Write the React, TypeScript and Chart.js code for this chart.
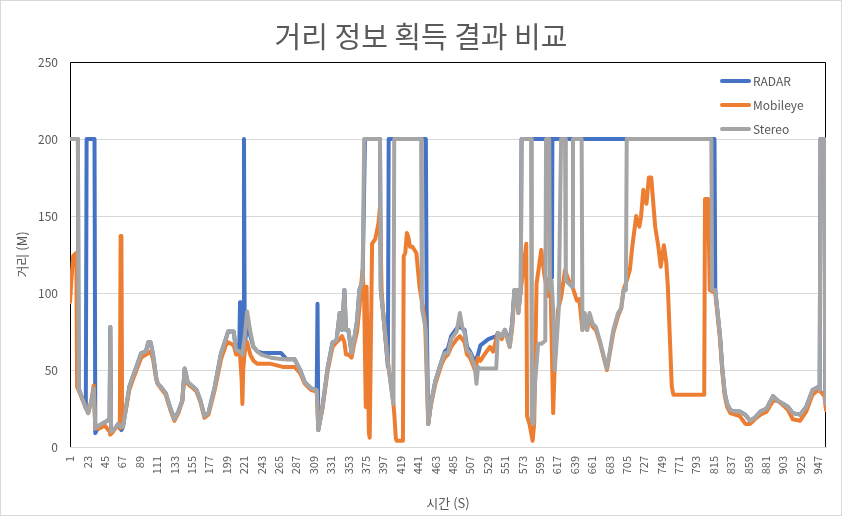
import React, { useEffect, useRef } from 'react';
import { Chart, registerables } from 'chart.js';

Chart.register(...registerables);

const FONT = "'Noto Sans CJK KR', 'Noto Sans', sans-serif";
const TEXT = '#595959';

const chartTitle = '거리 정보 획득 결과 비교';
const xTitle = '시간 (S)';
const yTitle = '거리 (M)';
const seriesNames = ['RADAR', 'Mobileye', 'Stereo'];
const seriesColors = ['#4472C4', '#ED7D31', '#A5A5A5'];

const xTickLabels = [1, 23, 45, 67, 89, 111, 133, 155, 177, 199, 221, 243, 265, 287, 309, 331, 353, 375, 397, 419, 441, 463, 485, 507, 529, 551, 573, 595, 617, 639, 661, 683, 705, 727, 749, 771, 793, 815, 837, 859, 881, 903, 925, 947];
const xMin = 1;
const xMax = 957;
const yTicks = [0, 50, 100, 150, 200, 250];

// Stereo (gray)
const stereoT = [1, 11, 12, 16, 20, 24, 28, 31, 33, 38, 45, 51, 52, 53, 58, 62, 66, 68, 72, 76, 80, 85, 91, 97, 100, 103, 106, 110, 112, 116, 122, 128, 133, 138, 143, 146, 150, 157, 161, 166, 171, 176, 184, 192, 198, 201, 208, 211, 216, 219, 222, 225, 229, 233, 238, 243, 255, 270, 285, 292, 298, 306, 313, 315, 320, 327, 333, 338, 340, 342, 345, 348, 350, 353, 357, 360, 364, 367, 371, 373, 393, 394, 397, 403, 410, 411, 445, 446, 451, 454, 457, 463, 471, 475, 479, 483, 490, 494, 497, 500, 503, 507, 513, 515, 517, 519, 540, 542, 547, 551, 557, 560, 563, 566, 568, 571, 572, 584, 585, 587, 589, 593, 597, 602, 603, 607, 608, 610, 612, 614, 619, 622, 627, 628, 636, 637, 648, 649, 652, 655, 658, 662, 666, 671, 680, 688, 694, 698, 701, 704, 705, 812, 813, 817, 823, 826, 829, 832, 836, 842, 848, 855, 861, 867, 874, 882, 890, 896, 903, 909, 915, 924, 932, 940, 947, 949, 950, 955, 956, 957];
const stereoV = [200, 200, 38, 32, 27, 22, 30, 38, 12, 14, 16, 18, 78, 10, 12, 15, 13, 13, 26, 39, 45, 52, 61, 62, 68, 68, 60, 45, 41, 39, 35, 25, 18, 23, 30, 51, 42, 39, 37, 30, 20, 22, 39, 61, 70, 75, 75, 63, 62, 60, 72, 88, 75, 65, 62, 60, 58, 57, 57, 50, 42, 38, 37, 11, 25, 52, 68, 69, 78, 87, 76, 102, 76, 76, 61, 69, 82, 102, 108, 200, 200, 102, 87, 55, 28, 200, 200, 90, 76, 15, 27, 43, 56, 61, 61, 70, 75, 87, 78, 74, 63, 61, 52, 41, 52, 51, 51, 74, 72, 76, 65, 78, 102, 102, 87, 102, 200, 200, 17, 15, 41, 67, 67, 69, 200, 200, 102, 108, 89, 50, 89, 200, 200, 108, 104, 200, 200, 76, 87, 76, 87, 80, 78, 69, 51, 76, 87, 90, 102, 102, 200, 200, 102, 102, 72, 50, 35, 28, 24, 23, 23, 21, 17, 19, 23, 25, 33, 30, 28, 26, 22, 21, 26, 37, 39, 37, 200, 200, 30, 28];

// RADAR (blue)
const radarT = [1, 11, 12, 16, 20, 21, 22, 32, 33, 38, 45, 51, 52, 53, 58, 62, 66, 68, 72, 76, 80, 85, 91, 97, 100, 103, 106, 110, 112, 116, 122, 128, 133, 138, 143, 146, 150, 157, 161, 166, 171, 176, 184, 192, 198, 201, 208, 211, 215, 216, 217, 220, 221, 222, 225, 229, 233, 238, 245, 268, 275, 285, 292, 298, 306, 313, 314, 315, 320, 327, 333, 338, 340, 342, 345, 348, 350, 353, 357, 360, 364, 367, 371, 374, 393, 394, 397, 403, 404, 451, 452, 454, 457, 463, 471, 475, 479, 483, 490, 494, 500, 503, 507, 513, 517, 520, 530, 540, 542, 547, 551, 557, 560, 563, 566, 568, 571, 572, 610, 610.5, 611, 816, 817, 823, 826, 829, 832, 836, 842, 848, 855, 861, 867, 874, 882, 890, 896, 903, 909, 915, 924, 932, 940, 947, 949, 950, 955, 956, 957];
const radarV = [200, 200, 38, 32, 27, 25, 200, 200, 9, 14, 16, 18, 78, 10, 12, 15, 11, 13, 26, 39, 45, 52, 61, 62, 68, 68, 60, 45, 41, 39, 35, 25, 18, 23, 30, 51, 42, 39, 37, 30, 20, 22, 39, 61, 70, 75, 75, 63, 62, 94, 62, 64, 200, 66, 80, 72, 65, 62, 61, 61, 57, 57, 50, 42, 38, 37, 93, 11, 25, 52, 68, 69, 78, 87, 76, 102, 76, 76, 61, 69, 82, 102, 108, 200, 200, 102, 87, 52, 200, 200, 89, 15, 27, 43, 56, 62, 64, 72, 77, 78, 76, 65, 62, 55, 60, 66, 70, 72, 74, 72, 76, 68, 80, 102, 102, 90, 102, 200, 200, 110, 200, 200, 102, 72, 50, 35, 28, 24, 23, 23, 21, 17, 19, 23, 25, 33, 30, 28, 26, 22, 21, 26, 37, 39, 37, 200, 200, 30, 28];

// Mobileye (orange)
const mobileyeT = [1, 3, 5, 9, 10, 16, 20, 24, 28, 31, 33, 38, 45, 51, 52, 54, 58, 62, 64, 65, 66, 67, 68, 72, 76, 80, 85, 91, 97, 100, 103, 106, 110, 112, 116, 122, 128, 133, 138, 143, 146, 150, 157, 161, 166, 171, 176, 184, 192, 198, 201, 208, 211, 216, 218, 219, 220, 222, 225, 229, 233, 238, 243, 255, 270, 285, 292, 298, 306, 313, 315, 320, 327, 333, 338, 342, 345, 348, 350, 353, 357, 360, 364, 367, 370, 371, 373, 375, 376, 378, 379, 380, 383, 387, 391, 393, 395, 397, 403, 410, 411, 413, 414, 422, 423, 425, 427, 429, 431, 434, 439, 443, 450, 454, 457, 463, 471, 475, 479, 483, 490, 494, 500, 503, 507, 513, 517, 520, 525, 532, 536, 542, 547, 551, 557, 560, 563, 566, 568, 571, 573, 578, 579, 582, 586, 588, 591, 597, 601, 603, 606, 607, 609, 612, 614, 618, 622, 627, 631, 637, 642, 645, 649, 652, 655, 658, 662, 666, 671, 680, 688, 694, 698, 701, 705, 709, 712, 717, 721, 723, 726, 730, 733, 736, 741, 745, 748, 752, 755, 757, 762, 764, 803, 804, 808, 810, 817, 823, 826, 829, 832, 836, 842, 848, 855, 861, 867, 874, 882, 890, 896, 903, 909, 915, 924, 932, 940, 947, 950, 955, 957];
const mobileyeV = [94, 110, 124, 126, 39, 32, 27, 22, 30, 40, 12, 12, 14, 10, 8, 9, 12, 14, 12, 137, 137, 14, 14, 25, 37, 43, 50, 58, 60, 61, 62, 57, 44, 41, 38, 34, 24, 17, 22, 30, 48, 41, 38, 36, 29, 19, 21, 37, 57, 66, 68, 66, 60, 60, 44, 28, 50, 62, 68, 60, 56, 54, 54, 54, 52, 52, 48, 41, 37, 36, 12, 24, 50, 65, 68, 70, 72, 68, 60, 60, 58, 66, 75, 90, 110, 115, 95, 26, 104, 40, 9, 6, 132, 135, 145, 156, 102, 87, 55, 28, 22, 6, 4, 4, 124, 126, 139, 136, 130, 130, 126, 104, 82, 15, 26, 41, 54, 58, 60, 65, 70, 72, 68, 60, 58, 50, 58, 56, 60, 65, 62, 74, 70, 76, 65, 76, 100, 102, 87, 102, 110, 132, 20, 15, 4, 15, 106, 128, 111, 106, 98, 110, 97, 22, 54, 89, 97, 115, 109, 103, 95, 96, 76, 85, 76, 85, 78, 76, 68, 50, 74, 85, 90, 102, 108, 115, 130, 150, 143, 149, 167, 158, 175, 175, 143, 130, 117, 131, 120, 104, 39, 34, 34, 161, 161, 102, 100, 70, 48, 33, 26, 22, 21, 20, 15, 15, 18, 21, 23, 30, 30, 27, 24, 18, 17, 23, 34, 37, 36, 33, 24];

function toPoints(ts: number[], vs: number[]) {
  return ts.map((t, i) => ({ x: t, y: vs[i] }));
}

const decorPlugin = {
  id: 'decor',
  beforeDatasetsDraw(chart: any) {
    const { ctx, chartArea: a } = chart;
    ctx.save();
    ctx.strokeStyle = '#000000';
    ctx.lineWidth = 1;
    ctx.beginPath();
    ctx.moveTo(Math.round(a.left) + 0.5, a.bottom);
    ctx.lineTo(Math.round(a.left) + 0.5, Math.round(a.top) + 0.5);
    ctx.lineTo(Math.round(a.right) - 0.5, Math.round(a.top) + 0.5);
    ctx.lineTo(Math.round(a.right) - 0.5, a.bottom);
    ctx.stroke();
    ctx.restore();
  },
  afterDraw(chart: any) {
    const { ctx, width, height, chartArea: a } = chart;
    const xs = chart.scales.x;
    ctx.save();
    // outer border
    ctx.strokeStyle = '#D9D9D9';
    ctx.lineWidth = 1;
    ctx.strokeRect(0.5, 0.5, width - 1, height - 1);
    // title
    ctx.fillStyle = TEXT;
    ctx.font = `29px ${FONT}`;
    ctx.textAlign = 'center';
    ctx.textBaseline = 'middle';
    ctx.fillText(chartTitle, width / 2, 37);
    // rotated x tick labels
    ctx.font = `11px ${FONT}`;
    ctx.textAlign = 'right';
    ctx.textBaseline = 'middle';
    xTickLabels.forEach((v) => {
      const px = xs.getPixelForValue(v);
      ctx.save();
      ctx.translate(px, a.bottom + 9);
      ctx.rotate(-Math.PI / 2);
      ctx.fillText(String(v), 0, 0);
      ctx.restore();
    });
    // legend
    ctx.font = `12px ${FONT}`;
    ctx.textAlign = 'left';
    const lx = 722;
    const ly = [81, 105, 129];
    seriesNames.forEach((name, i) => {
      ctx.strokeStyle = seriesColors[i];
      ctx.lineWidth = 4;
      ctx.lineCap = 'round';
      ctx.beginPath();
      ctx.moveTo(lx, ly[i]);
      ctx.lineTo(lx + 27, ly[i]);
      ctx.stroke();
      ctx.fillStyle = TEXT;
      ctx.fillText(name, lx + 31, ly[i]);
    });
    ctx.restore();
  },
};

export default function App() {
  const ref = useRef<HTMLCanvasElement | null>(null);
  useEffect(() => {
    if (!ref.current) return;
    const common = {
      pointRadius: 0,
      borderWidth: 4,
      tension: 0,
      fill: false,
      borderJoinStyle: 'round' as const,
      borderCapStyle: 'round' as const,
    };
    const chart = new Chart(ref.current, {
      type: 'line',
      data: {
        datasets: [
          { ...common, label: seriesNames[0], data: toPoints(radarT, radarV), borderColor: seriesColors[0], backgroundColor: seriesColors[0], order: 3 },
          { ...common, label: seriesNames[1], data: toPoints(mobileyeT, mobileyeV), borderColor: seriesColors[1], backgroundColor: seriesColors[1], order: 2 },
          { ...common, label: seriesNames[2], data: toPoints(stereoT, stereoV), borderColor: seriesColors[2], backgroundColor: seriesColors[2], order: 1 },
        ],
      },
      options: {
        responsive: false,
        animation: false,
        devicePixelRatio: 1,
        layout: { padding: { top: 62, right: 16, left: 0, bottom: 0 } },
        plugins: {
          legend: { display: false },
          title: { display: false },
          tooltip: { enabled: false },
        },
        scales: {
          x: {
            type: 'linear',
            min: xMin,
            max: xMax,
            afterBuildTicks: (s: any) => {
              s.ticks = xTickLabels.map((v) => ({ value: v }));
            },
            afterFit: (s: any) => {
              s.height = 69;
            },
            ticks: { display: false },
            grid: { display: false, drawTicks: false },
            border: { color: '#D9D9D9' },
            title: {
              display: true,
              text: xTitle,
              color: TEXT,
              font: { size: 13, family: FONT },
              padding: { top: 0, bottom: 5 },
            },
          },
          y: {
            min: 0,
            max: 250,
            afterBuildTicks: (s: any) => {
              s.ticks = yTicks.map((v) => ({ value: v }));
            },
            afterFit: (s: any) => {
              s.width = 70;
            },
            ticks: {
              padding: 12,
              color: TEXT,
              font: { size: 12, family: FONT },
            },
            grid: { color: '#D9D9D9', drawTicks: false },
            border: { display: false },
            title: {
              display: true,
              text: yTitle,
              color: TEXT,
              font: { size: 13, family: FONT },
              padding: { top: 14, bottom: 0 },
            },
          },
        },
      },
      plugins: [decorPlugin],
    });
    return () => chart.destroy();
  }, []);
  return (
    <div style={{ position: 'fixed', left: 0, top: 0, width: 842, height: 516, background: '#ffffff' }}>
      <canvas ref={ref} width={842} height={516} style={{ display: 'block' }} />
    </div>
  );
}
